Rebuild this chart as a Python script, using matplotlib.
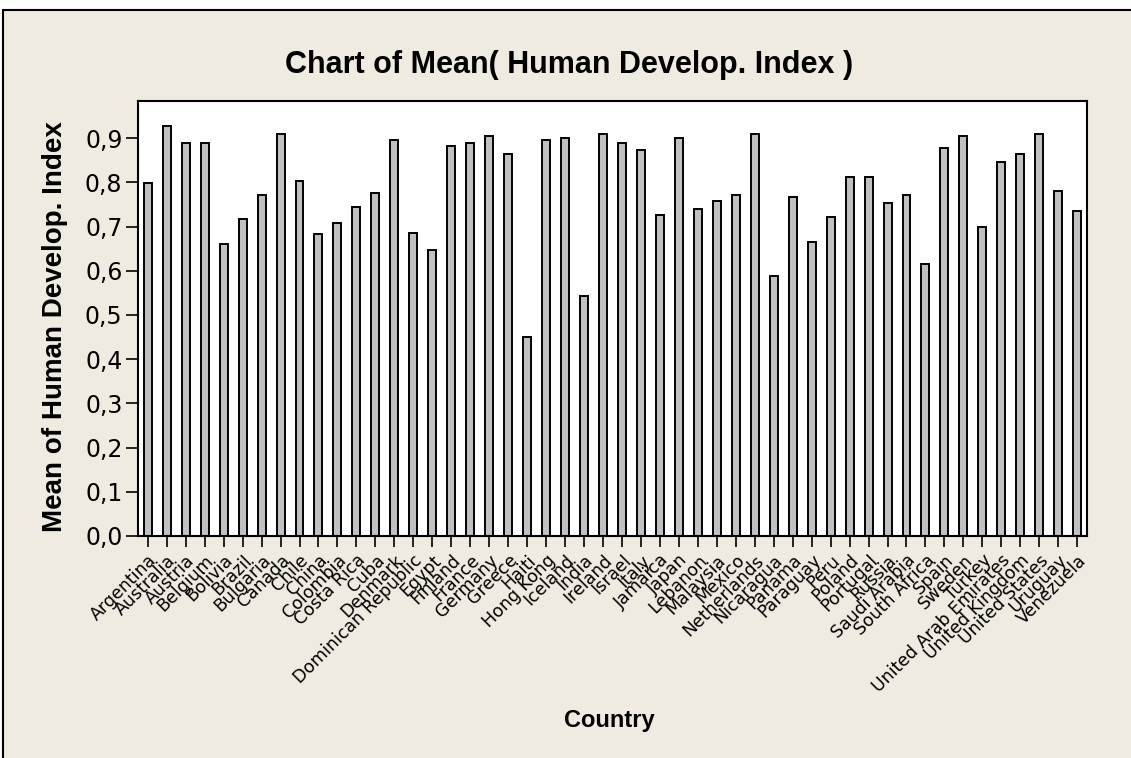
import numpy as np
import matplotlib
matplotlib.use('Agg')
import matplotlib.pyplot as plt
from matplotlib.patches import Rectangle
from matplotlib.ticker import FuncFormatter

# Dados
paises = ['Argentina', 'Australia', 'Austria', 'Belgium', 'Bolivia', 'Brazil',
          'Bulgaria', 'Canada', 'Chile', 'China', 'Colombia', 'Costa Rica', 'Cuba',
          'Denmark', 'Dominican Republic', 'Egypt', 'Finland', 'France', 'Germany',
          'Greece', 'Haiti', 'Hong Kong', 'Iceland', 'India', 'Ireland', 'Israel',
          'Italy', 'Jamaica', 'Japan', 'Lebanon', 'Malaysia', 'Mexico',
          'Netherlands', 'Nicaragua', 'Panama', 'Paraguay', 'Peru', 'Poland',
          'Portugal', 'Russia', 'Saudi Arabia', 'South Africa', 'Spain', 'Sweden',
          'Turkey', 'United Arab Emirates', 'United Kingdom', 'United States',
          'Uruguay', 'Venezuela']
hdi = [0.798, 0.928, 0.888, 0.888, 0.660, 0.718, 0.771, 0.910, 0.803, 0.683,
       0.709, 0.745, 0.776, 0.896, 0.686, 0.646, 0.883, 0.888, 0.905, 0.865,
       0.450, 0.896, 0.900, 0.544, 0.910, 0.888, 0.874, 0.726, 0.900, 0.740,
       0.758, 0.771, 0.910, 0.589, 0.767, 0.664, 0.722, 0.812, 0.812, 0.753,
       0.771, 0.615, 0.878, 0.905, 0.699, 0.847, 0.865, 0.910, 0.781, 0.735]
yticks = [0.0, 0.1, 0.2, 0.3, 0.4, 0.5, 0.6, 0.7, 0.8, 0.9]

bege = '#F0EBE1'

fig = plt.figure(figsize=(11.31, 7.58), dpi=100)
fig.patch.set_facecolor('white')
# moldura externa (só aparecem as bordas esquerda e superior)
fig.patches.append(Rectangle((3/1131, -0.1), 1.2, 1.1 - 10/758,
                             transform=fig.transFigure, facecolor=bege,
                             edgecolor='black', linewidth=1.5, zorder=-5))

ax = fig.add_axes([137.7/1131, 1 - 536/758, 949/1131, 435/758])
ax.set_facecolor('white')

x = np.arange(len(paises))
ax.bar(x, hdi, width=0.42, color='#C0C0C0', edgecolor='black', linewidth=1.4)

ax.set_xlim(-0.53, len(paises) - 0.5)
ax.set_ylim(0, 0.984)
ax.set_yticks(yticks)
ax.yaxis.set_major_formatter(FuncFormatter(lambda v, p: ('%.1f' % v).replace('.', ',')))
ax.set_xticks(x)
ax.set_xticklabels(paises, rotation=45, ha='right', rotation_mode='anchor',
                   fontsize=12.5)
ax.tick_params(axis='y', labelsize=17, length=9, width=1.2, direction='out', pad=2)
ax.tick_params(axis='x', length=8, width=1.2, direction='out', pad=3)
for s in ax.spines.values():
    s.set_linewidth(1.5)

fig.text(569/1131, 1 - 65/758, 'Chart of Mean( Human Develop. Index )', ha='center',
         va='center', fontsize=22, fontweight='bold', family='Liberation Sans')
fig.text(55/1131, 1 - 327/758, 'Mean of Human Develop. Index', ha='center',
         va='center', rotation=90, fontsize=20, fontweight='bold',
         family='Liberation Sans')
fig.text(609/1131, 1 - 721/758, 'Country', ha='center', va='center',
         fontsize=17, fontweight='bold', family='Liberation Sans')

fig.savefig('out.png', dpi=100, facecolor=fig.get_facecolor())
